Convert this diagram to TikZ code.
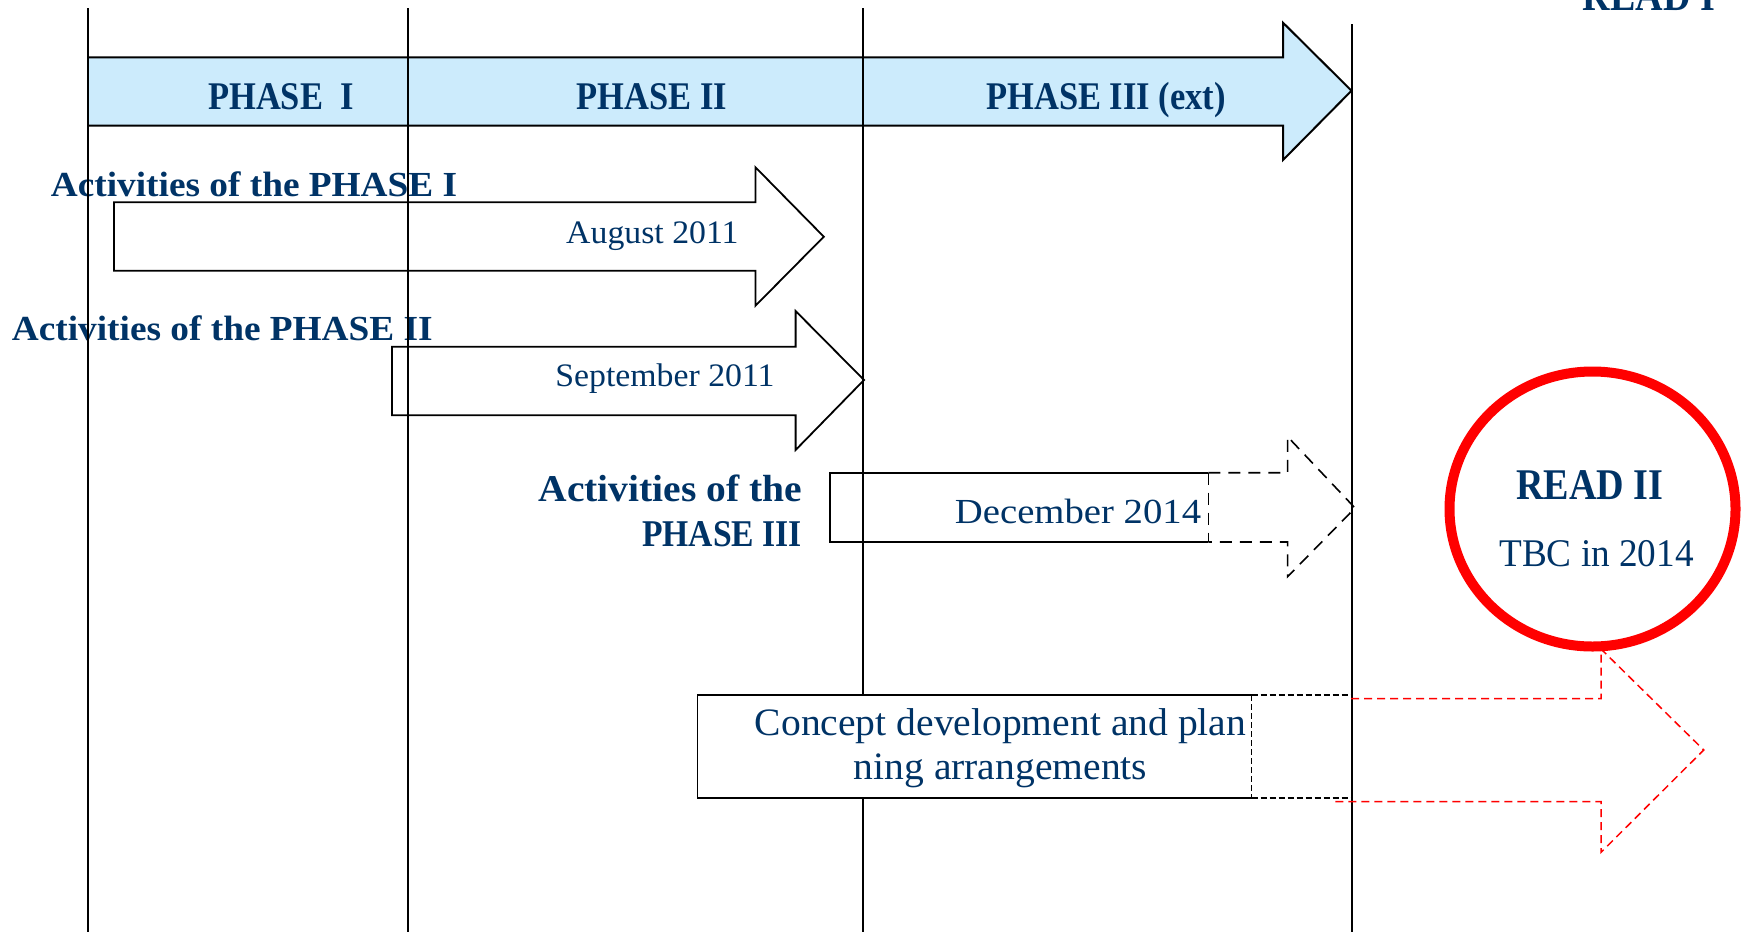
\documentclass[tikz,border=0pt]{standalone}
\usepackage{fontspec}
\setmainfont{Liberation Serif}
\usepackage{graphicx}
\definecolor{navy}{RGB}{0,51,102}
\definecolor{hdrblue}{RGB}{204,235,252}
\newcommand\hsc[2]{\scalebox{#1}[1]{#2}}
\newcommand\fhdr{\fontsize{19.6pt}{23pt}\selectfont\bfseries}
\newcommand\fread{\fontsize{21.9pt}{26pt}\selectfont\bfseries}
\newcommand\fact{\fontsize{17.6pt}{21pt}\selectfont\bfseries}
\newcommand\factb{\fontsize{18.9pt}{22.5pt}\selectfont\bfseries}
\newcommand\fdate{\fontsize{16.4pt}{20pt}\selectfont}
\newcommand\fdec{\fontsize{17.6pt}{21pt}\selectfont}
\newcommand\fconc{\fontsize{19.4pt}{22.2pt}\selectfont}
\newcommand\ftbc{\fontsize{19.6pt}{23pt}\selectfont}
\begin{document}
\begin{tikzpicture}[x=0.5pt,y=-0.5pt,
  lbl/.style={text=navy, inner sep=0pt},
  vline/.style={line width=0.75pt},
  blockarrow/.style={line width=0.9pt, line join=miter},
  blackdash/.style={line width=0.8pt, dash pattern=on 6pt off 4pt},
  shortdash/.style={line width=0.8pt, dash pattern=on 3pt off 1.5pt},
  reddash/.style={draw=red, line width=0.75pt, dash pattern=on 4pt off 2.5pt}]
\clip (0,0) rectangle (1744,932);

% header arrow
\fill[hdrblue] (88,57.3) -- (1283,57.3) -- (1283,22.7) -- (1351.5,90.7) -- (1283,160) -- (1283,125.7) -- (88,125.7) -- cycle;
\draw[blockarrow, line width=1pt] (88,57.3) -- (1283,57.3) -- (1283,22.7) -- (1351.5,90.7) -- (1283,160) -- (1283,125.7) -- (88,125.7);
\node[lbl, anchor=base, font=\fhdr] (ph1) at (281,109.3) {\hsc{0.88}{PHASE\ \ I}};
\node[lbl, anchor=base, font=\fhdr] (ph2) at (651.6,109.3) {\hsc{0.88}{PHASE II}};
\node[lbl, anchor=base, font=\fhdr] (ph3) at (1106,109.3) {\hsc{0.88}{PHASE III (ext)}};
\node[lbl, anchor=base, font=\fread] (read1) at (1649,10) {\hsc{0.87}{READ I}};

% activity labels
\node[lbl, anchor=base west, font=\fact] (act1) at (50.5,196.7) {\hsc{1.06}{Activities of the PHASE I}};
\node[lbl, anchor=base west, font=\fact] (act2) at (11.5,340.7) {\hsc{1.06}{Activities of the PHASE II}};
\node[lbl, anchor=base east, font=\factb] (act3) at (802.5,501.7) {\begin{tabular}[t]{@{}r@{}}\hsc{1.046}{Activities of the}\\\hsc{0.89}{PHASE III}\end{tabular}};

% dates
\node[lbl, anchor=base east, font=\fdate] (d1) at (739,243.3) {\hsc{1.03}{August 2011}};
\node[lbl, anchor=base east, font=\fdate] (d2) at (775,386.7) {\hsc{1.03}{September 2011}};
\node[lbl, anchor=base east, font=\fdec] (d3) at (1201.5,523.3) {\hsc{1.1}{December 2014}};

% arrow 1
\draw[blockarrow] (114,202.3) -- (755.5,202.3) -- (755.5,167.3) -- (823.8,236.7) -- (755.5,305.7) -- (755.5,270.7) -- (114,270.7) -- cycle;
% arrow 2
\draw[blockarrow] (392,346.7) -- (795.6,346.7) -- (795.6,311) -- (864,380) -- (795.6,450) -- (795.6,415.3) -- (392,415.3) -- cycle;
% arrow 3
\draw[blockarrow] (1208.4,472.7) -- (830,472.7) -- (830,542) -- (1208.4,542);
\draw[blackdash] (1208.4,472.7) -- (1287.6,472.7) -- (1287.6,436.7) -- (1355,508) -- (1287.6,576.7) -- (1287.6,542) -- (1208.4,542);
\draw[blackdash] (1208.4,472.7) -- (1208.4,542);

% vertical lines
\draw[vline] (88,8) -- (88,932);
\draw[vline] (408,8) -- (408,932);
\draw[vline] (863,8) -- (863,932);
\draw[vline] (1352,24) -- (1352,932);

% concept box
\fill[white] (697.4,695) rectangle (1251.5,798);
\draw[blockarrow] (1251.5,695) -- (697.4,695) -- (697.4,798) -- (1251.5,798);
\draw[shortdash] (1251.5,695) -- (1351,695);
\draw[shortdash] (1251.5,798) -- (1351,798);
\draw[shortdash] (1251.5,695) -- (1251.5,798);
\node[lbl, anchor=base, font=\fconc] (concept) at (1000.5,735) {\begin{tabular}[t]{@{}c@{}}\hsc{1.02}{Concept development and plan}\\\hsc{1.02}{ning arrangements}\end{tabular}};

% red dashed arrow
\draw[reddash] (1351,698.7) -- (1601,698.7) -- (1601,649) -- (1703.7,750) -- (1601,852.3) -- (1601,801.7) -- (1332.5,801.7);

% READ II circle
\draw[red, line width=5pt] (1592.5,509) ellipse [x radius=143, y radius=137.5];
\node[lbl, anchor=base, font=\fread] (read2) at (1590,499.3) {\hsc{0.87}{READ II}};
\node[lbl, anchor=base, font=\ftbc] (tbc) at (1596.5,566) {\hsc{0.95}{TBC in 2014}};
\end{tikzpicture}
\end{document}
